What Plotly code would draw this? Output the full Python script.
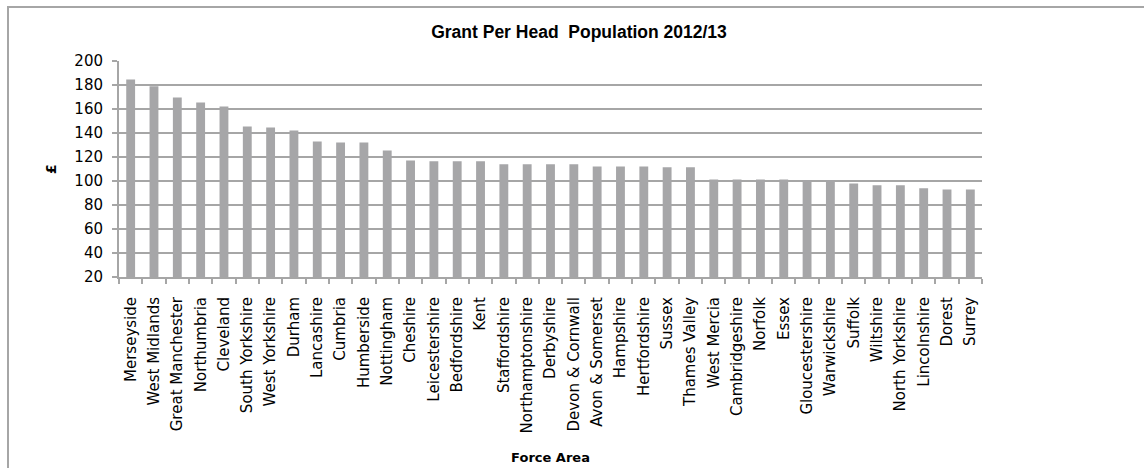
import plotly.graph_objects as go

forces = ["Merseyside", "West Midlands", "Great Manchester", "Northumbria", "Cleveland",
          "South Yorkshire", "West Yorkshire", "Durham", "Lancashire", "Cumbria",
          "Humberside", "Nottingham", "Cheshire", "Leicestershire", "Bedfordshire",
          "Kent", "Staffordshire", "Northamptonshire", "Derbyshire", "Devon & Cornwall",
          "Avon & Somerset", "Hampshire", "Hertfordshire", "Sussex", "Thames Valley",
          "West Mercia", "Cambridgeshire", "Norfolk", "Essex", "Gloucestershire",
          "Warwickshire", "Suffolk", "Wiltshire", "North Yorkshire", "Lincolnshire",
          "Dorest", "Surrey"]
grant = [184.5, 179, 169.5, 165.5, 162, 145.5, 144.5, 142, 133, 132,
         132, 125.5, 117, 116.5, 116.5, 116.5, 114, 114, 114, 114,
         112, 112, 112, 111.5, 111.5, 101.2, 101.2, 101.2, 101.2, 100.6,
         100.6, 98, 96.5, 96.5, 94, 93, 93]
y_ticks = [20, 40, 60, 80, 100, 120, 140, 160, 180, 200]

GRAY = "#a6a6a6"
FONT = "DejaVu Sans"

fig = go.Figure(go.Bar(x=forces, y=grant, marker=dict(color="#a6a6a8", line=dict(width=0))))

W, H = 1144, 468
L, R, T, B = 119, 162, 61, 191
pw, ph = W - L - R, H - T - B

def px(x):
    return (x - L) / pw

def py(y):
    return (H - B - y) / ph

fig.update_layout(
    width=W, height=H,
    margin=dict(l=L, r=R, t=T, b=B, autoexpand=False),
    paper_bgcolor="white", plot_bgcolor="white",
    bargap=0.62,
    showlegend=False,
    font=dict(family=FONT, color="black", size=15),
    title=dict(text="<b>Grant Per Head  Population 2012/13</b>", x=579 / W, xref="container",
               xanchor="center", y=1 - 32 / H, yanchor="middle",
               font=dict(size=17.5, family="Liberation Sans")),
    xaxis=dict(
        type="category", tickangle=-90, showgrid=False, automargin=False,
        showline=True, linecolor=GRAY, linewidth=2,
        ticks="outside", tickson="boundaries", ticklen=5, tickcolor=GRAY, tickwidth=2,
        ticklabelstandoff=12,
        tickfont=dict(size=15, family=FONT),
        title=dict(text="<b>Force Area</b>", font=dict(size=13, family=FONT), standoff=20),
    ),
    yaxis=dict(
        range=[20, 200], tickvals=y_ticks, showgrid=True, gridcolor=GRAY, gridwidth=2,
        showline=True, linecolor=GRAY, linewidth=2, zeroline=False, automargin=False,
        ticks="outside", ticklen=5, tickcolor=GRAY, tickwidth=2,
        ticklabelstandoff=6,
        tickfont=dict(size=15, family=FONT),
        title=dict(text="<b>£</b>", font=dict(size=14, family=FONT), standoff=14),
    ),
    shapes=[dict(type="rect", xref="paper", yref="paper",
                 x0=px(8), x1=px(1150), y0=py(475), y1=py(7),
                 line=dict(color=GRAY, width=2), fillcolor="rgba(0,0,0,0)", layer="below")],
)

fig.write_html("out.html")
